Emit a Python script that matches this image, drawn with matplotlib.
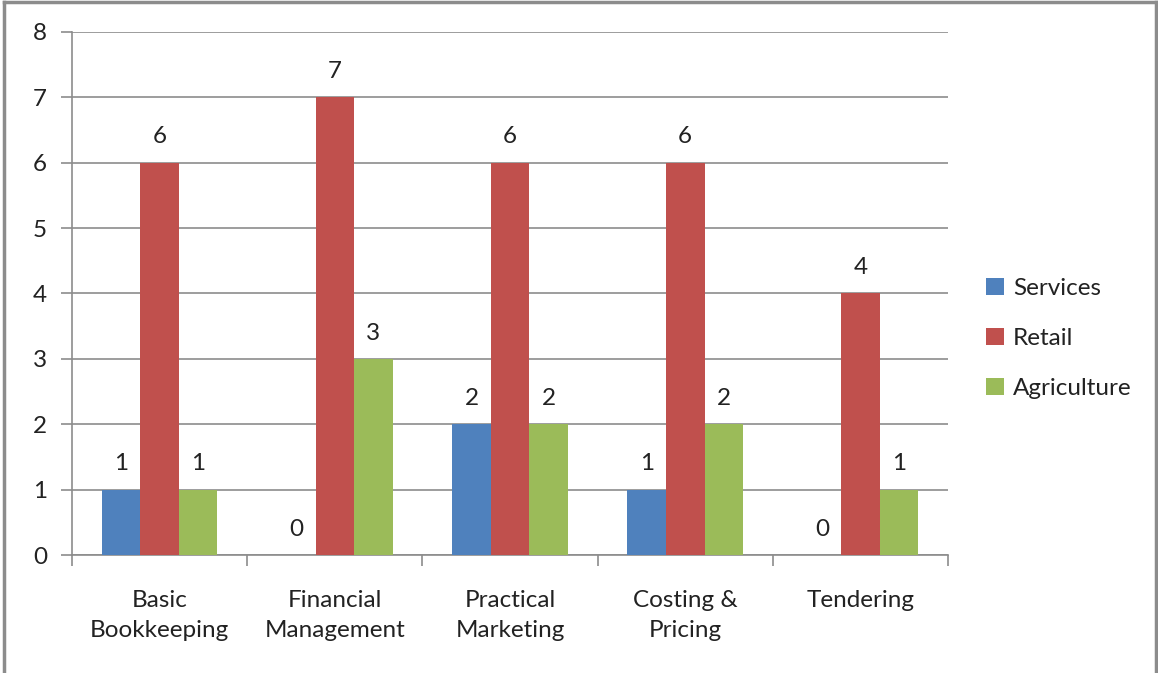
import numpy as np
import matplotlib
matplotlib.use("Agg")
import matplotlib.pyplot as plt
from matplotlib.lines import Line2D

plt.rcParams['font.family'] = ['Lato', 'DejaVu Sans']

# chart data
categories = ["Basic\nBookkeeping", "Financial\nManagement", "Practical\nMarketing",
              "Costing &\nPricing", "Tendering"]
series_names = ["Services", "Retail", "Agriculture"]
services = [1, 0, 2, 1, 0]
retail = [6, 7, 6, 6, 4]
agriculture = [1, 3, 2, 2, 1]
colors = ["#4F81BD", "#C0504D", "#9BBB59"]

fig = plt.figure(figsize=(11.58, 6.73), dpi=100)
ax = fig.add_axes([0.0622, 0.1753, 0.7565, 0.7772])

fs = 17.5
x = np.arange(len(categories))
width = 0.22
all_series = [services, retail, agriculture]
for i, (vals, name, col) in enumerate(zip(all_series, series_names, colors)):
    pos = x + (i - 1) * width
    ax.bar(pos, vals, width, color=col, label=name, zorder=3)
    # data labels above each bar
    for px, v in zip(pos, vals):
        ax.annotate(str(v), (px, v), xytext=(0, 11), textcoords="offset points",
                    ha="center", va="bottom", fontsize=fs, color="#222222")

ax.set_xlim(-0.5, len(categories) - 0.5)
ax.set_ylim(0, 8)
ax.set_yticks(range(0, 9))
ax.yaxis.grid(True, color="#8c8c8c", linewidth=1.2, zorder=0)
ax.set_axisbelow(True)

# category labels centered, tick marks at boundaries
ax.set_xticks(x)
ax.set_xticklabels(categories, fontsize=fs, linespacing=1.55, color="#222222")
ax.set_xticks(np.arange(-0.5, len(categories)), minor=True)
ax.tick_params(axis="x", which="major", length=0, pad=25)
ax.tick_params(axis="x", which="minor", length=8, color="#8c8c8c", width=1.2)
ax.tick_params(axis="y", length=8, color="#8c8c8c", width=1.2, pad=10, labelsize=fs,
               labelcolor="#222222")

for s in ["top", "right"]:
    ax.spines[s].set_visible(False)
for s in ["left", "bottom"]:
    ax.spines[s].set_color("#8c8c8c")
    ax.spines[s].set_linewidth(1.2)

leg = fig.legend(loc="center left", bbox_to_anchor=(0.833, 0.497), frameon=False,
                 fontsize=fs, handlelength=0.7, handleheight=0.7, handletextpad=0.4,
                 labelspacing=1.2)
for t in leg.get_texts():
    t.set_color("#222222")

# outer border of the chart area
for coords in [((0.0035, 0.0035), (0, 0.997)), ((0.0035, 0.9985), (0.997, 0.997)),
               ((0.9985, 0.9985), (0, 0.997))]:
    fig.add_artist(Line2D(coords[0], coords[1], transform=fig.transFigure,
                          color="#8c8c8c", linewidth=2.5))

fig.savefig("out.png", dpi=100)
